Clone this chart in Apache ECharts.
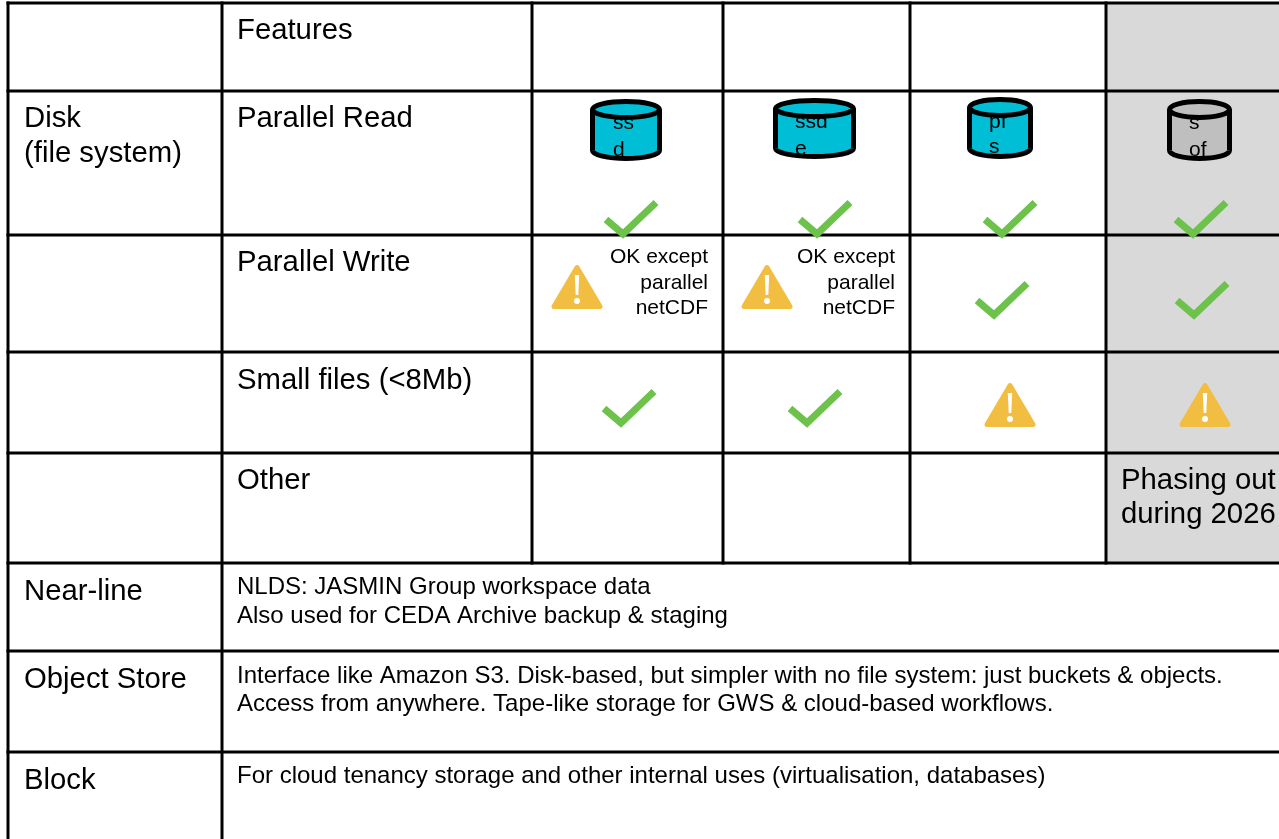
<!DOCTYPE html>
<html>
<head>
<meta charset="utf-8">
<title>JASMIN storage</title>
<script src="https://cdn.jsdelivr.net/npm/echarts@6/dist/echarts.min.js"></script>
<style>
  html, body { margin: 0; padding: 0; background: #fff; overflow: hidden; }
  #chart { width: 1279px; height: 839px; }
</style>
</head>
<body>
<div id="chart"></div>
<script>
// table content
var storageNames = [['ss', 'd'], ['ssd', 'e'], ['pf', 's'], ['s', 'of']]
var parallelRead = ['ok', 'ok', 'ok', 'ok']
var parallelWrite = ['warn', 'warn', 'ok', 'ok']
var smallFiles = ['ok', 'ok', 'warn', 'warn']
var writeNote = ['OK except', 'parallel', 'netCDF']
var phasingNote = ['Phasing out', 'during 2026']
var featureNames = ['Features', 'Parallel Read', 'Parallel Write', 'Small files (<8Mb)', 'Other']
var storageTypes = ['Disk', '(file system)', 'Near-line', 'Object Store', 'Block']
var nearLineText = ['NLDS: JASMIN Group workspace data', 'Also used for CEDA Archive backup & staging']
var objectStoreText = [
  'Interface like Amazon S3. Disk-based, but simpler with no file system: just buckets & objects.',
  'Access from anywhere. Tape-like storage for GWS & cloud-based workflows.'
]
var blockText = ['For cloud tenancy storage and other internal uses (virtualisation, databases)']

// where things sit on the page (axes run 1:1 with the screenshot)
var colX = [8, 222, 532, 723, 910, 1106, 1279]
var rowY = [3, 91, 235, 352, 453, 563, 651, 752, 839]
var cylinderBoxes = [[590, 99, 662, 161], [773, 98, 856, 159], [967, 97, 1033, 159], [1167, 99, 1232, 161]]
var cylinderText = [[613, 113, 140], [795, 112, 139], [989, 112, 137], [1189, 113, 140]]
var iconCentres = [
  [[631, 219], [825, 219], [1010, 219], [1201, 219]],
  [[577, 287], [767, 287], [1002, 300], [1202, 300]],
  [[629, 408], [815, 408], [1010, 405], [1205, 405]]
]

var BLACK = '#000'
var GREEN = '#6cc24a'
var AMBER = '#f1be42'
var CYAN = '#00bed6'
var CELL_GREY = '#d9d9d9'
var CYL_GREY = '#bfbfbf'
var FONT = '"Liberation Sans", Arial, sans-serif'

// flatten the status lists into icon marks
var ticks = []
var warnings = []
;[parallelRead, parallelWrite, smallFiles].forEach(function (row, r) {
  row.forEach(function (status, c) {
    (status === 'ok' ? ticks : warnings).push(iconCentres[r][c])
  })
})

// text marks: [x, y, string, size, align]
var labels = []
function addLines(lines, x, ys, size, align) {
  lines.forEach(function (line, i) {
    labels.push([x, ys[i], line, size, align || 'left'])
  })
}
addLines(featureNames, 237, [31, 119, 263, 381, 481], 29.3)
addLines(storageTypes.slice(0, 2), 24, [119, 154], 29.3)
addLines(storageTypes.slice(2), 24, [592, 680, 781], 29.3)
addLines(writeNote, 708, [257, 283, 308], 21, 'right')
addLines(writeNote, 895, [257, 283, 308], 21, 'right')
addLines(phasingNote, 1121, [481, 515], 29.3)
addLines(nearLineText, 237, [587, 616], 24)
addLines(objectStoreText, 237, [676, 704], 24)
addLines(blockText, 237, [776], 24)

var rules = [
  [colX[0], rowY[0], colX[6], rowY[0]],
  [colX[0], rowY[1], colX[6], rowY[1]],
  [colX[0], rowY[2], colX[6], rowY[2]],
  [colX[0], rowY[3], colX[6], rowY[3]],
  [colX[0], rowY[4], colX[6], rowY[4]],
  [colX[0], rowY[5], colX[6], rowY[5]],
  [colX[0], rowY[6], colX[6], rowY[6]],
  [colX[0], rowY[7], colX[6], rowY[7]],
  [colX[0], rowY[0], colX[0], rowY[8]],
  [colX[1], rowY[0], colX[1], rowY[8]],
  [colX[2], rowY[0], colX[2], rowY[5]],
  [colX[3], rowY[0], colX[3], rowY[5]],
  [colX[4], rowY[0], colX[4], rowY[5]],
  [colX[5], rowY[0], colX[5], rowY[5]]
]

function renderFill(params, api) {
  var a = api.coord([api.value(0), api.value(1)])
  var b = api.coord([api.value(2), api.value(3)])
  return { type: 'rect', shape: { x: a[0], y: a[1], width: b[0] - a[0], height: b[1] - a[1] }, style: { fill: CELL_GREY } }
}

function renderRule(params, api) {
  var a = api.coord([api.value(0), api.value(1)])
  var b = api.coord([api.value(2), api.value(3)])
  return {
    type: 'line',
    shape: { x1: a[0], y1: a[1], x2: b[0], y2: b[1] },
    style: { stroke: BLACK, lineWidth: 3, lineCap: 'square' }
  }
}

function renderLabel(params, api) {
  var item = labels[params.dataIndex]
  var p = api.coord([item[0], item[1]])
  return {
    type: 'text',
    style: {
      text: item[2], x: p[0], y: p[1], fill: '#000',
      align: item[4], verticalAlign: 'middle',
      font: item[3] + 'px ' + FONT
    }
  }
}

function renderCylinder(params, api) {
  var i = params.dataIndex
  var a = api.coord([api.value(0), api.value(1)])
  var b = api.coord([api.value(2), api.value(3)])
  var sw = 5
  var left = a[0] + sw / 2
  var right = b[0] - sw / 2
  var top = a[1] + sw / 2
  var bottom = b[1] - sw / 2
  var ry = 8
  var cx = (left + right) / 2
  var rx = (right - left) / 2
  var fill = i === 3 ? CYL_GREY : CYAN
  var t = cylinderText[i]
  var name = storageNames[i]
  var stroke = { stroke: BLACK, lineWidth: sw, fill: fill }
  return {
    type: 'group',
    children: [
      { type: 'ellipse', shape: { cx: cx, cy: bottom - ry, rx: rx, ry: ry }, style: stroke },
      { type: 'rect', shape: { x: left, y: top + ry, width: right - left, height: bottom - top - 2 * ry }, style: { fill: fill } },
      { type: 'line', shape: { x1: left, y1: top + ry, x2: left, y2: bottom - ry }, style: { stroke: BLACK, lineWidth: sw } },
      { type: 'line', shape: { x1: right, y1: top + ry, x2: right, y2: bottom - ry }, style: { stroke: BLACK, lineWidth: sw } },
      { type: 'text', style: { text: name[0], x: t[0], y: t[1], align: 'left', verticalAlign: 'top', fill: '#000', font: '21px ' + FONT } },
      { type: 'text', style: { text: name[1], x: t[0], y: t[2], align: 'left', verticalAlign: 'top', fill: '#000', font: '21px ' + FONT } },
      { type: 'ellipse', shape: { cx: cx, cy: top + ry, rx: rx, ry: ry }, style: stroke }
    ]
  }
}

function renderTick(params, api) {
  var c = api.coord([api.value(0), api.value(1)])
  return {
    type: 'polyline',
    shape: { points: [[c[0] - 25, c[1] + 0.5], [c[0] - 8, c[1] + 15], [c[0] + 25, c[1] - 16.5]] },
    style: { stroke: GREEN, lineWidth: 7, fill: null, lineJoin: 'miter' }
  }
}

function renderWarning(params, api) {
  var c = api.coord([api.value(0), api.value(1)])
  return {
    type: 'group',
    children: [
      {
        type: 'polygon',
        shape: { points: [[c[0], c[1] - 19.5], [c[0] + 23, c[1] + 19.5], [c[0] - 23, c[1] + 19.5]] },
        style: { fill: AMBER, stroke: AMBER, lineWidth: 5, lineJoin: 'round' }
      },
      {
        type: 'polygon',
        shape: { points: [[c[0] - 2.2, c[1] - 12], [c[0] + 2.2, c[1] - 12], [c[0] + 1.3, c[1] + 8], [c[0] - 1.3, c[1] + 8]] },
        style: { fill: '#fff' }
      },
      { type: 'circle', shape: { cx: c[0], cy: c[1] + 14, r: 3 }, style: { fill: '#fff' } }
    ]
  }
}

function customSeries(render, data, z) {
  return { type: 'custom', renderItem: render, data: data, z: z, silent: true, animation: false, clip: false }
}

var chart = echarts.init(document.getElementById('chart'), null, { renderer: 'canvas' })
chart.setOption({
  animation: false,
  backgroundColor: '#fff',
  tooltip: { show: false },
  grid: { left: 0, right: 0, top: 0, bottom: 0 },
  xAxis: { type: 'value', min: 0, max: 1279, show: false },
  yAxis: { type: 'value', min: 0, max: 839, inverse: true, show: false },
  series: [
    customSeries(renderFill, [[colX[5], rowY[0], colX[6], rowY[5]]], 1),
    customSeries(renderRule, rules, 2),
    customSeries(renderLabel, labels.map(function (l) { return [l[0], l[1]] }), 3),
    customSeries(renderCylinder, cylinderBoxes, 4),
    customSeries(renderTick, ticks, 5),
    customSeries(renderWarning, warnings, 5)
  ]
})
</script>
</body>
</html>
